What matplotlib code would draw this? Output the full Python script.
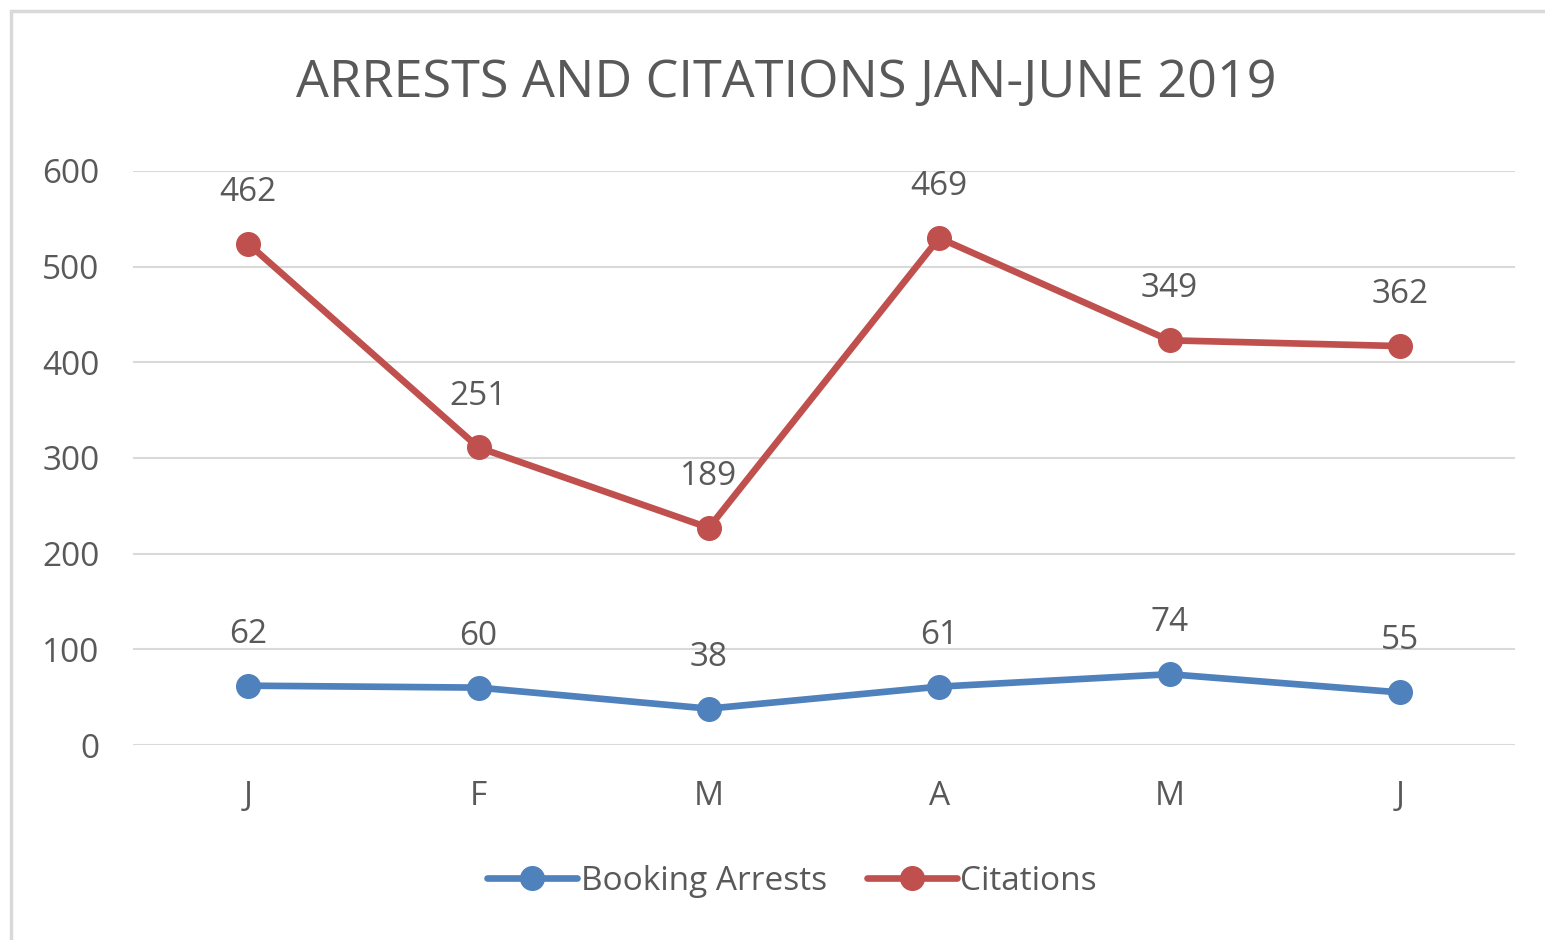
import matplotlib
matplotlib.use("Agg")
import matplotlib.pyplot as plt
from matplotlib.patches import Rectangle
import numpy as np

months = ["J", "F", "M", "A", "M", "J"]
booking_arrests = [62, 60, 38, 61, 74, 55]
citations = [462, 251, 189, 469, 349, 362]
yticks = [0, 100, 200, 300, 400, 500, 600]

plt.rcParams['font.family'] = ['Open Sans', 'DejaVu Sans']
TXT = '#595959'
BLUE = '#4F81BD'
RED = '#C0504D'
GRID = '#D9D9D9'

W, H = 1545, 940
fig = plt.figure(figsize=(W/100, H/100), dpi=100)
ax = fig.add_axes([133/W, 1-745/H, (1515-133)/W, (745-171)/H])

x = np.arange(len(months))
stacked = np.array(booking_arrests) + np.array(citations)

ax.plot(x, booking_arrests, color=BLUE, lw=4.8, marker='o', ms=17,
        label='Booking Arrests', solid_capstyle='round', zorder=3)
ax.plot(x, stacked, color=RED, lw=4.8, marker='o', ms=17,
        label='Citations', solid_capstyle='round', zorder=3)

for xi, yi, v in zip(x, booking_arrests, booking_arrests):
    ax.annotate(str(v), (xi, yi), xytext=(0, 37), textcoords='offset points',
                ha='center', va='center', fontsize=24, color=TXT)
for xi, yi, v in zip(x, stacked, citations):
    ax.annotate(str(v), (xi, yi), xytext=(0, 37), textcoords='offset points',
                ha='center', va='center', fontsize=24, color=TXT)

ax.set_xlim(-0.5, len(months) - 0.5)
ax.set_ylim(0, 600)
ax.set_yticks(yticks)
ax.set_xticks(x)
ax.set_xticklabels(months)
ax.grid(axis='y', color=GRID, lw=1.5)
ax.set_axisbelow(True)
for s in ax.spines.values():
    s.set_visible(False)
ax.tick_params(axis='both', length=0, colors=TXT, labelsize=24)
ax.tick_params(axis='y', pad=24)
ax.tick_params(axis='x', pad=25)
for ln in ax.lines:
    ln.set_clip_on(False)

fig.text(786/W, 1-84/H, 'ARRESTS AND CITATIONS JAN-JUNE 2019', ha='center',
         va='center', fontsize=37.5, color=TXT)

fig.legend(loc='center', bbox_to_anchor=(792/W, 1-881/H), ncol=2, frameon=False,
           fontsize=24, labelcolor=TXT, handlelength=2.7, handletextpad=0.1,
           columnspacing=1.2)

fig.patches.append(Rectangle((11/W, -0.1), 1.2, 1.1 - 11/H, transform=fig.transFigure,
                             fill=False, edgecolor='#D9D9D9', lw=2.5, zorder=0))

fig.savefig('out.png', dpi=100, facecolor='white')
